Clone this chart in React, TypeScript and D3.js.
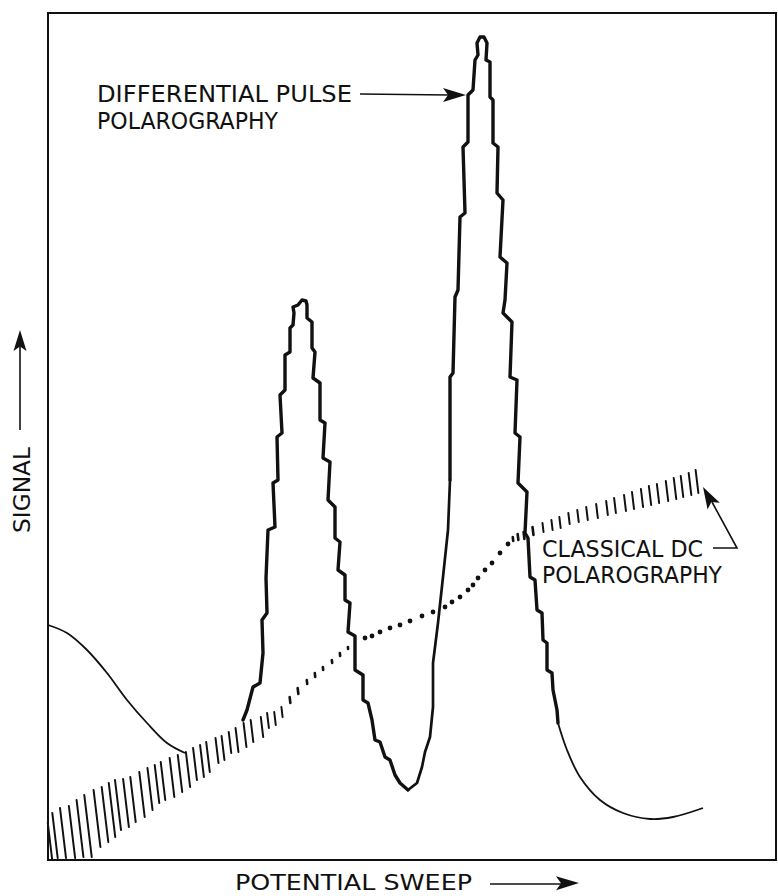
import React from 'react';
import * as d3 from 'd3';

const W = 778;
const H = 896;

// potential sweep (arbitrary units) vs signal (arbitrary units)
// differential pulse trace: thin lead-in, stepped peaks, thin tail
const dppLead: [number, number][] = [
  [0, 23.5], [1.9, 22.7], [3.9, 21.0], [5.9, 18.7], [7.9, 16.0], [9.9, 13.7], [11.9, 11.7], [13.7, 10.7],
];

const dppMain: [number, number][] = [
  [19.5, 14.0], [19.9, 15.0], [20.5, 17.3], [21.2, 17.7], [21.5, 20.7], [21.4, 24.0], [21.9, 24.7],
  [21.8, 28.2], [22.0, 33.0], [22.7, 33.3], [22.5, 37.7], [23.0, 38.0], [22.9, 42.3], [23.4, 42.7],
  [23.2, 46.5], [23.7, 47.0], [23.7, 50.5], [24.2, 50.8], [24.2, 53.2], [24.5, 53.5], [24.6, 54.7],
  [24.5, 55.3], [25.0, 55.5], [25.4, 56.0], [25.8, 55.9], [25.9, 55.5], [25.9, 54.2], [26.4, 53.8],
  [26.4, 51.2], [26.7, 50.8], [26.5, 48.2], [27.2, 47.7], [27.2, 44.0], [27.7, 43.7], [27.5, 40.2],
  [28.2, 39.8], [28.0, 36.0], [28.7, 35.3], [28.7, 32.2], [29.2, 31.8], [29.0, 29.0], [29.7, 28.5],
  [29.7, 26.0], [30.2, 25.7], [30.0, 22.8], [30.7, 22.4], [30.7, 19.0], [31.5, 18.5], [31.5, 16.0],
  [32.0, 15.7], [32.4, 14.0], [32.7, 12.0], [33.2, 11.8], [33.7, 10.3], [34.2, 10.0], [34.7, 8.5],
  [35.2, 7.7], [36.0, 7.0], [36.9, 7.7], [37.4, 9.3], [37.7, 10.8], [38.2, 12.3], [38.5, 15.3],
  [38.5, 19.7], [39.0, 23.7], [39.5, 28.3], [40.0, 33.0], [40.2, 38.0], [40.2, 48.3], [40.5, 48.7],
  [40.7, 56.3], [41.0, 57.0], [41.2, 64.3], [41.7, 64.7], [41.5, 71.3], [42.0, 71.8], [42.0, 76.5],
  [42.5, 77.0], [42.7, 80.0], [43.0, 80.5], [42.9, 81.7], [43.2, 82.3], [43.6, 82.3], [43.9, 81.7],
  [43.8, 80.0], [44.2, 79.8], [44.2, 76.3], [44.5, 76.0], [44.5, 71.7], [45.0, 71.3], [44.9, 66.7],
  [45.5, 66.0], [45.2, 60.3], [45.9, 59.7], [45.7, 56.0], [45.5, 54.7], [46.4, 53.8], [46.2, 48.3],
  [46.9, 48.0], [46.7, 42.7], [47.2, 42.3], [47.0, 37.7], [47.9, 36.8], [47.7, 32.7], [48.0, 32.2],
  [48.2, 28.3], [48.7, 28.0], [48.9, 25.0], [49.4, 24.7], [49.5, 22.0], [49.9, 21.7], [49.9, 19.0],
  [50.4, 18.7], [50.5, 17.0], [50.9, 15.0], [51.0, 13.7],
];

const dppTail: [number, number][] = [
  [51.0, 13.7], [51.9, 11.0], [53.2, 8.3], [55.2, 6.0], [57.5, 4.7], [60.2, 4.1], [62.5, 4.3], [65.5, 5.2],
];

// classical dc polarography: one entry per mercury drop [potential, low, high]
const dcDrops: [number, number, number][] = [
  [0.2, 0, 3.7], [0.7, 0.2, 4.7], [1.5, 0.2, 5.2], [2.4, 0.2, 5.4], [3.2, 0.3, 6.0], [4.0, 0.3, 6.5],
  [4.9, 1.3, 7.0], [5.7, 1.8, 7.3], [6.4, 2.3, 7.7], [7.0, 3.0, 8.0], [7.8, 3.3, 8.1], [8.5, 3.8, 8.3],
  [9.4, 4.3, 8.8], [10.2, 5.0, 9.2], [10.9, 5.7, 9.5], [11.5, 6.0, 9.8], [12.4, 6.3, 10.2], [13.2, 6.8, 10.5],
  [14.0, 7.3, 10.8], [14.7, 8.0, 11.2], [15.4, 8.3, 11.5], [16.0, 8.8, 11.8], [16.9, 9.7, 12.2],
  [17.5, 10.0, 12.4], [18.2, 10.7, 12.8], [18.9, 10.8, 13.2], [19.7, 11.3, 13.7], [20.4, 11.8, 14.0],
  [21.4, 12.3, 14.3], [22.0, 13.2, 14.7], [22.7, 13.5, 14.8], [23.4, 14.3, 15.3], [24.2, 15.7, 16.3],
  [25.0, 16.6, 17.2], [25.9, 17.6, 18.0], [26.7, 18.3, 18.7], [27.5, 19.0, 19.3], [28.4, 19.7, 20.0],
  [29.2, 20.4, 20.7], [30.0, 21.1, 21.3],
  [31.7, 22.2, 22.2], [32.4, 22.4, 22.4], [33.2, 22.8, 22.8], [34.2, 23.2, 23.2], [35.2, 23.5, 23.5],
  [36.2, 23.9, 23.9], [37.4, 24.4, 24.4], [38.5, 24.8, 24.8], [39.7, 25.3, 25.3], [40.4, 25.8, 25.8],
  [41.2, 26.3, 26.3], [42.0, 27.0, 27.0], [42.5, 27.5, 27.5], [43.0, 28.2, 28.2], [43.7, 29.0, 29.0],
  [44.4, 29.7, 29.7], [45.2, 30.7, 30.7], [46.0, 31.6, 31.6],
  [46.5, 31.9, 32.3], [47.0, 32.0, 32.6], [47.6, 32.1, 32.8], [48.5, 32.5, 33.3], [49.5, 32.8, 33.7],
  [50.4, 33.0, 34.0], [51.2, 33.2, 34.3], [52.1, 33.6, 34.7], [53.0, 33.8, 35.0], [53.9, 34.0, 35.3],
  [54.9, 34.2, 35.6], [55.9, 34.5, 35.9], [56.7, 34.7, 36.2], [57.7, 34.9, 36.5], [58.5, 35.1, 36.8],
  [59.4, 35.3, 37.1], [60.2, 35.5, 37.4], [61.0, 35.7, 37.6], [61.9, 35.9, 37.9], [62.7, 36.1, 38.2],
  [63.4, 36.3, 38.4], [64.2, 36.5, 38.7], [64.9, 36.7, 39.0],
];

const FONT = '"DejaVu Sans", sans-serif';

// filled arrow head pointing from (fx,fy) toward tip (tx,ty)
function arrowHead(tx: number, ty: number, fx: number, fy: number, len = 20, half = 5.5) {
  const a = Math.atan2(ty - fy, tx - fx);
  const bx = tx - len * Math.cos(a);
  const by = ty - len * Math.sin(a);
  const nx = -Math.sin(a) * half;
  const ny = Math.cos(a) * half;
  const nb = 0.78; // notch
  const cx = tx - len * nb * Math.cos(a);
  const cy = ty - len * nb * Math.sin(a);
  return `M${tx},${ty}L${bx + nx},${by + ny}L${cx},${cy}L${bx - nx},${by - ny}Z`;
}

export default function App() {
  const x = d3.scaleLinear().domain([0, 72.8]).range([48, 776]);
  const y = d3.scaleLinear().domain([0, 84.7]).range([860, 13]);

  const stepLine = d3.line<[number, number]>().x(d => x(d[0])).y(d => y(d[1]));
  const smoothLine = d3.line<[number, number]>().x(d => x(d[0])).y(d => y(d[1])).curve(d3.curveCatmullRom);

  // split main trace: thick stepped part, lighter rising flank of the valley
  const valleyIdx = dppMain.findIndex(d => d[0] === 36.0);
  const flankEnd = dppMain.findIndex(d => d[0] === 40.2 && d[1] === 38.0);
  const partA = dppMain.slice(0, valleyIdx + 1);
  const partB = dppMain.slice(valleyIdx, flankEnd + 1);
  const partC = dppMain.slice(flankEnd);

  const textStyle = { fontFamily: FONT, fontWeight: 400, fontSize: 23, fill: '#111' } as const;

  return (
    <svg width={W} height={H} style={{ position: 'absolute', left: 0, top: 0, background: '#fff' }}>
      {/* frame */}
      <rect x={x(0)} y={y(84.7)} width={x(72.8) - x(0)} height={y(0) - y(84.7)}
        fill="none" stroke="#111" strokeWidth={2} />

      {/* classical dc polarography drops */}
      <g stroke="#111" fill="#111" strokeLinecap="round">
        {dcDrops.map((d, i) => {
          const px = x(d[0]);
          const y0 = y(d[1]);
          const y1 = y(d[2]);
          const len = y0 - y1;
          if (len < 1) return <circle key={i} cx={px} cy={y0} r={2.4} stroke="none" />;
          const tilt = len * 0.12;
          return <line key={i} x1={px + tilt / 2} y1={y0} x2={px - tilt / 2} y2={y1} strokeWidth={len < 8 ? 2.6 : 2} />;
        })}
      </g>

      {/* differential pulse polarography */}
      <path d={smoothLine(dppLead) ?? ''} fill="none" stroke="#111" strokeWidth={1.8} />
      <g fill="none" stroke="#111" strokeLinejoin="round" strokeLinecap="round">
        <path d={stepLine(partA) ?? ''} strokeWidth={3.4} />
        <path d={stepLine(partB) ?? ''} strokeWidth={2.7} />
        <path d={stepLine(partC) ?? ''} strokeWidth={3.4} />
      </g>
      <path d={smoothLine(dppTail) ?? ''} fill="none" stroke="#111" strokeWidth={1.8} />

      {/* annotations */}
      <text x={97} y={102} textLength={255} lengthAdjust="spacingAndGlyphs" {...textStyle}>DIFFERENTIAL PULSE</text>
      <text x={97} y={129} textLength={181} lengthAdjust="spacingAndGlyphs" {...textStyle}>POLAROGRAPHY</text>
      <line x1={360} y1={94} x2={450} y2={95} stroke="#111" strokeWidth={1.6} />
      <path d={arrowHead(466, 95, 360, 95, 23, 7)} fill="#111" />

      <text x={542} y={557} textLength={161} lengthAdjust="spacingAndGlyphs" {...textStyle}>CLASSICAL DC</text>
      <text x={542} y={583} textLength={180} lengthAdjust="spacingAndGlyphs" {...textStyle}>POLAROGRAPHY</text>
      <polyline points="713,548 737,548 712,502" fill="none" stroke="#111" strokeWidth={1.6} />
      <path d={arrowHead(703, 487, 737, 548, 22, 7)} fill="#111" />

      <text transform="translate(30,533) rotate(-90)" textLength={86} lengthAdjust="spacingAndGlyphs" {...textStyle}>SIGNAL</text>
      <line x1={20} y1={430} x2={20} y2={345} stroke="#111" strokeWidth={1.6} />
      <path d={arrowHead(20, 330, 20, 430, 21, 6.5)} fill="#111" />

      <text x={235} y={890} textLength={237} lengthAdjust="spacingAndGlyphs" {...textStyle} fontSize={21}>POTENTIAL SWEEP</text>
      <line x1={490} y1={884} x2={562} y2={884} stroke="#111" strokeWidth={1.6} />
      <path d={arrowHead(579, 883, 490, 884, 23, 7)} fill="#111" />
    </svg>
  );
}
